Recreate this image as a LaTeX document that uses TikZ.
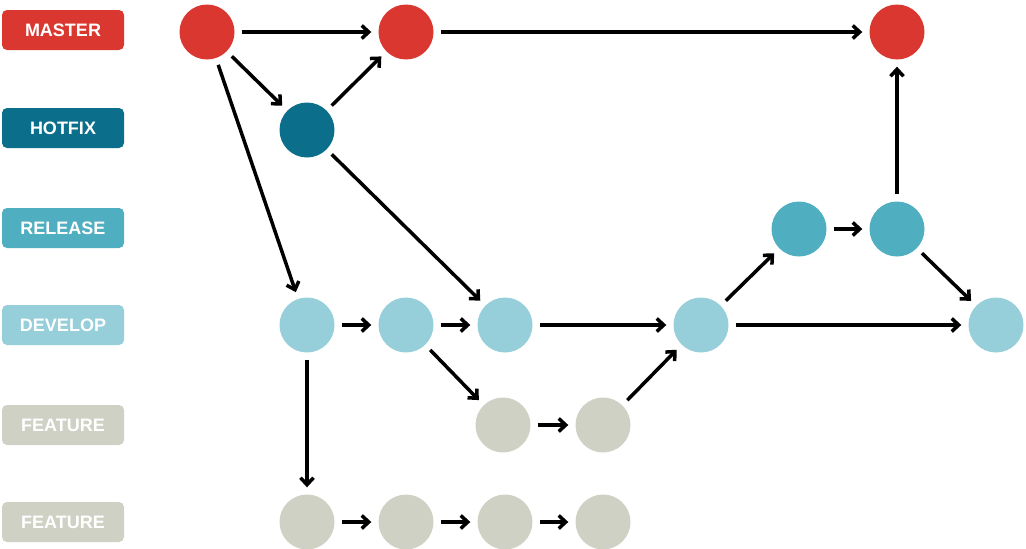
\documentclass[tikz,border=0pt]{standalone}
\usepackage{fontspec}
\setmainfont{Liberation Sans}
\usetikzlibrary{arrows.meta}
\definecolor{cmaster}{HTML}{D9372F}
\definecolor{chotfix}{HTML}{0B6E8A}
\definecolor{crelease}{HTML}{4FAEBF}
\definecolor{cdevelop}{HTML}{96CFD9}
\definecolor{cfeature}{HTML}{CFD1C5}
\begin{document}
\begin{tikzpicture}[x=1pt,y=-1pt,
  lab/.style={rounded corners=5pt,minimum width=122pt,minimum height=40pt,inner sep=0pt,text=white,font=\bfseries\fontsize{18}{20}\selectfont},
  cm/.style={circle,minimum size=55pt,inner sep=0pt,fill=#1},
  ar/.style={-{Straight Barb[length=7pt,width=13pt,line width=3.5pt]},line width=3.5pt,shorten <=7pt,shorten >=7pt}]
\useasboundingbox (0,0) rectangle (1026,549);
\node[lab,fill=cmaster] (lm) at (63,30) {MASTER};
\node[lab,fill=chotfix] (lh) at (63,128) {HOTFIX};
\node[lab,fill=crelease] (lr) at (63,228) {RELEASE};
\node[lab,fill=cdevelop] (ld) at (63,325) {DEVELOP};
\node[lab,fill=cfeature] (lf1) at (63,425) {FEATURE};
\node[lab,fill=cfeature] (lf2) at (63,522) {FEATURE};
\node[cm=cmaster] (m1) at (207,32) {};
\node[cm=cmaster] (m2) at (406,32) {};
\node[cm=cmaster] (m3) at (897,32) {};
\node[cm=chotfix] (h1) at (307,130) {};
\node[cm=crelease] (r1) at (799,229) {};
\node[cm=crelease] (r2) at (897,229) {};
\node[cm=cdevelop] (d1) at (307,325) {};
\node[cm=cdevelop] (d2) at (406,325) {};
\node[cm=cdevelop] (d3) at (505,325) {};
\node[cm=cdevelop] (d4) at (701,325) {};
\node[cm=cdevelop] (d5) at (996,325) {};
\node[cm=cfeature] (f1) at (503,425) {};
\node[cm=cfeature] (f2) at (603,425) {};
\node[cm=cfeature] (g1) at (307,522) {};
\node[cm=cfeature] (g2) at (406,522) {};
\node[cm=cfeature] (g3) at (505,522) {};
\node[cm=cfeature] (g4) at (603,522) {};
\foreach \a/\b in {m1/m2,m1/h1,h1/m2,m2/m3,m1/d1,h1/d3,d1/d2,d2/d3,d3/d4,d2/f1,f1/f2,f2/d4,d4/r1,r1/r2,r2/m3,r2/d5,d4/d5,d1/g1,g1/g2,g2/g3,g3/g4}
  \draw[ar] (\a) -- (\b);
\end{tikzpicture}
\end{document}
